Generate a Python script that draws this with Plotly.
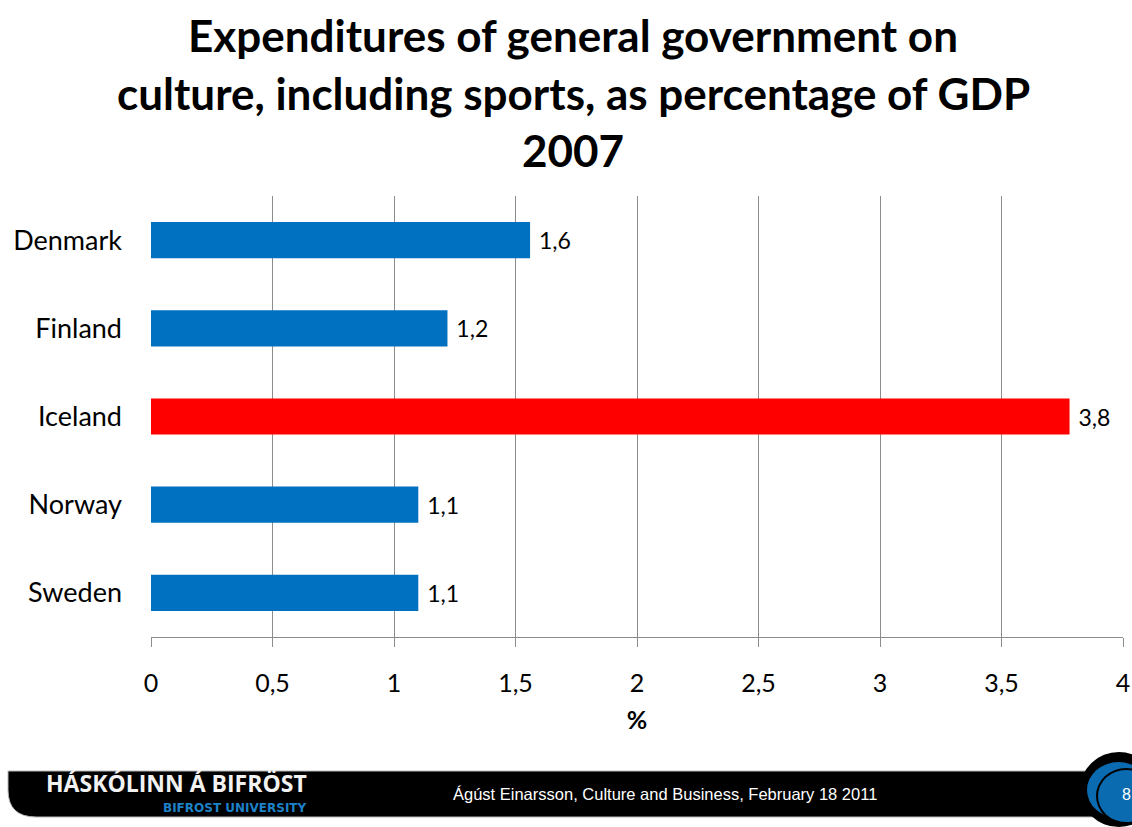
import plotly.graph_objects as go

# Data
countries = ["Denmark", "Finland", "Iceland", "Norway", "Sweden"]
share_gdp = [1.56, 1.22, 3.78, 1.10, 1.10]
bar_colors = ["#0070C0", "#0070C0", "#FF0000", "#0070C0", "#0070C0"]
x_ticks = [0, 0.5, 1, 1.5, 2, 2.5, 3, 3.5, 4]
x_tick_labels = ["0", "0,5", "1", "1,5", "2", "2,5", "3", "3,5", "4"]
title_lines = [
    "Expenditures of general government on",
    "culture, including sports, as percentage of GDP",
    "2007",
]
footer_text = "Ágúst Einarsson, Culture and Business, February 18 2011"

W, H = 1132, 827
FONT = "Lato, Open Sans, sans-serif"


def px(x):
    return x / W


def py(y):
    return 1 - y / H


fig = go.Figure(
    go.Bar(
        x=share_gdp,
        y=countries,
        orientation="h",
        marker=dict(color=bar_colors, line=dict(width=0)),
        width=0.41,
        texttemplate=" %{x:.1f}",
        textposition="outside",
        textfont=dict(family=FONT, size=23, color="#000000"),
        cliponaxis=False,
        hoverinfo="skip",
    )
)

grid = "#8C8C8C"
fig.update_layout(
    width=W,
    height=H,
    margin=dict(l=0, r=0, t=0, b=0),
    paper_bgcolor="white",
    plot_bgcolor="white",
    separators=", ",
    showlegend=False,
    font=dict(family=FONT, color="#000000"),
    xaxis=dict(
        domain=[px(151), px(1123)],
        range=[0, 4],
        tickvals=x_ticks,
        ticktext=x_tick_labels,
        showgrid=True,
        gridcolor=grid,
        gridwidth=1,
        showline=True,
        linecolor=grid,
        linewidth=1,
        ticks="outside",
        ticklen=9,
        tickcolor=grid,
        tickfont=dict(size=25, family=FONT),
        ticklabelstandoff=15,
        ticklabeloverflow="allow",
        zeroline=False,
        automargin=False,
        fixedrange=True,
        title=dict(text="<b>%</b>", font=dict(size=25, family=FONT), standoff=15),
    ),
    yaxis=dict(
        domain=[py(637), py(196)],
        autorange="reversed",
        categoryorder="array",
        categoryarray=countries,
        showgrid=False,
        showline=False,
        ticks="",
        tickfont=dict(size=27, family=FONT),
        ticklabelstandoff=28,
        zeroline=False,
        automargin=False,
        fixedrange=True,
    ),
)

# Title, one annotation per line
for line, yc in zip(title_lines, [35, 93, 150]):
    fig.add_annotation(
        text=f"<b>{line}</b>",
        x=px(573), y=py(yc), xref="paper", yref="paper",
        xanchor="center", yanchor="middle", showarrow=False,
        font=dict(family=FONT, size=44, color="#000000"),
    )

# Footer band with rounded lower-left corner
band_path = (
    f"M {px(8)},{py(771)} L {px(1110)},{py(771)} L {px(1110)},{py(817)} "
    f"L {px(36)},{py(817)} Q {px(8)},{py(817)} {px(8)},{py(790)} Z"
)
fig.add_shape(type="path", path=band_path, xref="paper", yref="paper",
              fillcolor="#000000", line=dict(color="#B8B8B8", width=1), layer="above")

# Round badge on the right of the band
fig.add_shape(type="circle", xref="paper", yref="paper",
              x0=px(1080), x1=px(1158), y0=py(827), y1=py(752),
              fillcolor="#000000", line=dict(width=0), layer="above")
fig.add_shape(type="circle", xref="paper", yref="paper",
              x0=px(1087), x1=px(1150), y0=py(818), y1=py(762),
              fillcolor="#0A6BB0", line=dict(width=0), layer="above")
fig.add_shape(type="circle", xref="paper", yref="paper",
              x0=px(1096), x1=px(1156), y0=py(824), y1=py(768),
              fillcolor="#000000", line=dict(width=0), layer="above")
fig.add_shape(type="circle", xref="paper", yref="paper",
              x0=px(1098), x1=px(1154), y0=py(822), y1=py(770),
              fillcolor="#0A6BB0", line=dict(width=0), layer="above")

fig.add_annotation(text="8", x=px(1120), y=py(794), xref="paper", yref="paper",
                   xanchor="left", yanchor="middle", showarrow=False,
                   font=dict(family="Liberation Sans, Arial, sans-serif", size=16, color="#FFFFFF"))

# Logo text
fig.add_annotation(text="<b>HÁSKÓLINN Á BIFRÖST</b>", x=px(309), y=py(783),
                   xref="paper", yref="paper", xanchor="right", yanchor="middle",
                   showarrow=False,
                   font=dict(family="Open Sans, sans-serif", size=23, color="#F2F2F2"))
fig.add_annotation(text="<b>BIFROST UNIVERSITY</b>", x=px(309), y=py(808),
                   xref="paper", yref="paper", xanchor="right", yanchor="middle",
                   showarrow=False,
                   font=dict(family="DejaVu Sans, sans-serif", size=12, color="#1E82C8"))

# Footer caption
fig.add_annotation(text=footer_text, x=px(665), y=py(794), xref="paper", yref="paper",
                   xanchor="center", yanchor="middle", showarrow=False,
                   font=dict(family="Liberation Sans, Arial, sans-serif", size=16.5, color="#FFFFFF"))

fig.write_html("out.html")
